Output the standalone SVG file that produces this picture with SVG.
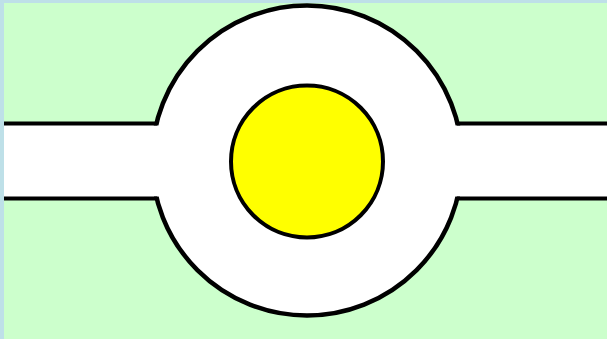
<svg xmlns="http://www.w3.org/2000/svg" width="607" height="339" viewBox="0 0 607 339">
<style>
.ln{stroke:#000;stroke-width:4;fill:none}
</style>
<rect x="0" y="0" width="607" height="339" fill="#BEE0E8"/>
<rect x="4" y="3" width="603" height="336" fill="#CCFFCC"/>
<g id="road">
<rect x="4" y="123.5" width="603" height="75" fill="#fff"/>
<circle cx="307" cy="160.5" r="155" fill="#fff" stroke="#000" stroke-width="4.5"/>
<rect x="140" y="125.5" width="335" height="71" fill="#fff"/>
<line class="ln" x1="4" y1="123.5" x2="157" y2="123.5"/>
<line class="ln" x1="4" y1="198.5" x2="157" y2="198.5"/>
<line class="ln" x1="457" y1="123.5" x2="607" y2="123.5"/>
<line class="ln" x1="457" y1="198.5" x2="607" y2="198.5"/>
</g>
<g id="island">
<circle cx="307" cy="161.5" r="76" fill="#FFFF00" stroke="#000" stroke-width="4"/>
</g>
</svg>
